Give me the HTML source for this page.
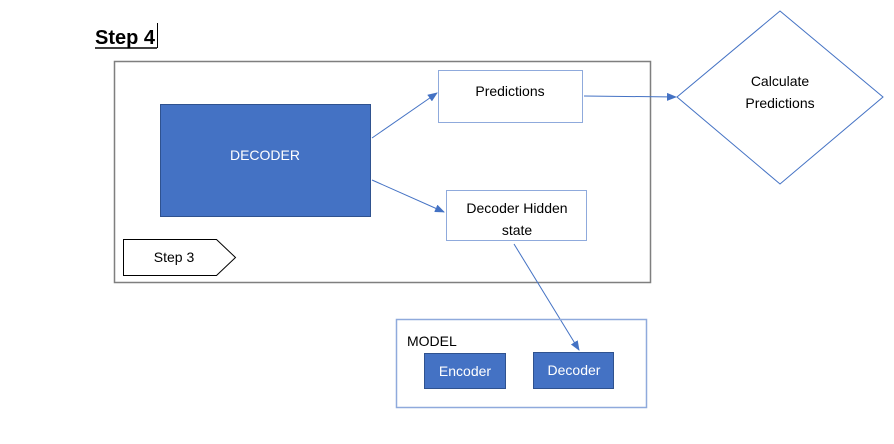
<!DOCTYPE html>
<html><head><style>
body{margin:0;width:894px;height:444px;background:#fff;overflow:hidden}
svg{display:block}
text{font-family:"Liberation Sans",sans-serif;font-size:14px;fill:#000}
</style></head><body>
<svg width="894" height="444" xmlns="http://www.w3.org/2000/svg">
<defs><marker id="a" markerWidth="10" markerHeight="8" refX="9" refY="4" orient="auto" markerUnits="userSpaceOnUse"><path d="M0,0 L10,4 L0,8 z" fill="#4472c4"/></marker></defs>
<text x="95" y="44" style="font-size:20px;font-weight:bold">Step 4</text>
<line x1="95" y1="48" x2="157" y2="48" stroke="#000" stroke-width="1.5"/>
<line x1="157.5" y1="23" x2="157.5" y2="48" stroke="#000" stroke-width="1"/>
<rect x="114.5" y="61.5" width="536" height="221" fill="none" stroke="#7f7f7f" stroke-width="1.5"/>
<rect x="160.5" y="104.5" width="210" height="112" fill="#4472c4" stroke="#2f528f"/>
<text x="265" y="160" text-anchor="middle" style="fill:#fff">DECODER</text>
<rect x="438.5" y="70.5" width="144" height="52" fill="#fff" stroke="#8faadc"/>
<text x="510" y="96" text-anchor="middle">Predictions</text>
<rect x="446.5" y="190.5" width="140" height="50" fill="#fff" stroke="#8faadc"/>
<text x="517" y="213" text-anchor="middle">Decoder Hidden</text>
<text x="517" y="235" text-anchor="middle">state</text>
<path d="M123.5,239.5 L216.5,239.5 L235.5,257.5 L216.5,275.5 L123.5,275.5 Z" fill="#fff" stroke="#000"/>
<text x="174" y="262" text-anchor="middle">Step 3</text>
<path d="M780,11 L883,97 L780,184 L677,97 Z" fill="#fff" stroke="#4472c4"/>
<text x="780" y="86" text-anchor="middle">Calculate</text>
<text x="780" y="108" text-anchor="middle">Predictions</text>
<line x1="372" y1="138" x2="437" y2="93" stroke="#4472c4" marker-end="url(#a)"/>
<line x1="372" y1="180" x2="444" y2="212" stroke="#4472c4" marker-end="url(#a)"/>
<line x1="584" y1="96" x2="676" y2="97" stroke="#4472c4" marker-end="url(#a)"/>
<line x1="514" y1="244" x2="579" y2="350" stroke="#4472c4" marker-end="url(#a)"/>
<rect x="396.5" y="319.5" width="250" height="88" fill="none" stroke="#8faadc" stroke-width="1.5"/>
<text x="407" y="346">MODEL</text>
<rect x="424.5" y="353.5" width="81" height="35" fill="#4472c4" stroke="#2f528f"/>
<text x="465" y="376" text-anchor="middle" style="fill:#fff">Encoder</text>
<rect x="533.5" y="352.5" width="80" height="36" fill="#4472c4" stroke="#2f528f"/>
<text x="574" y="375" text-anchor="middle" style="fill:#fff">Decoder</text>
</svg>
</body></html>
